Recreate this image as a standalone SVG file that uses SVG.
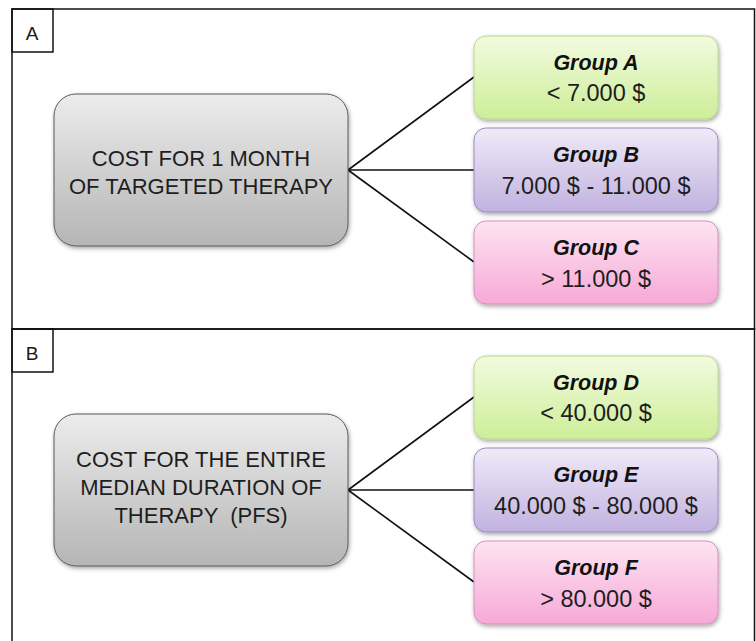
<svg xmlns="http://www.w3.org/2000/svg" width="756" height="641" viewBox="0 0 756 641">
<style>
.frame{fill:none;stroke:#111;stroke-width:1.5}
.lab{font-family:"Liberation Sans",Arial,sans-serif;font-size:19px;fill:#1a1a1a;text-anchor:middle}
.main{stroke:#5a5a5a;stroke-width:1;fill:url(#gGray);filter:url(#sh)}
.mt{font-family:"Liberation Sans",Arial,sans-serif;font-size:22px;fill:#1e1e1e;text-anchor:middle}
.g{font-family:"Liberation Sans",Arial,sans-serif;font-size:21.5px;font-weight:bold;font-style:italic;fill:#111;text-anchor:middle}
.v{font-family:"Liberation Sans",Arial,sans-serif;font-size:23.5px;fill:#1e1e1e;text-anchor:middle}
.grn{fill:url(#gGreen);stroke:#b9d68c;stroke-width:1;filter:url(#sh)}
.pur{fill:url(#gPur);stroke:#9a8cbf;stroke-width:1;filter:url(#sh)}
.pnk{fill:url(#gPink);stroke:#d892b8;stroke-width:1;filter:url(#sh)}
.conn line{stroke:#111;stroke-width:1.6}
</style>
<defs>
<linearGradient id="gGray" x1="0" y1="0" x2="0" y2="1"><stop offset="0" stop-color="#ececec"/><stop offset="1" stop-color="#b5b5b5"/></linearGradient>
<linearGradient id="gGreen" x1="0" y1="0" x2="0" y2="1"><stop offset="0" stop-color="#f2fbe0"/><stop offset="1" stop-color="#cdee98"/></linearGradient>
<linearGradient id="gPur" x1="0" y1="0" x2="0" y2="1"><stop offset="0" stop-color="#efeaf7"/><stop offset="1" stop-color="#c1b2e0"/></linearGradient>
<linearGradient id="gPink" x1="0" y1="0" x2="0" y2="1"><stop offset="0" stop-color="#fde4f2"/><stop offset="1" stop-color="#f7a9d6"/></linearGradient>
<filter id="sh" x="-10%" y="-10%" width="125%" height="130%"><feDropShadow dx="1" dy="2" stdDeviation="2" flood-color="#000" flood-opacity="0.35"/></filter>
</defs>
<rect width="756" height="641" fill="#fff"/>
<g id="panelA">
<rect class="frame" x="12" y="9" width="742.5" height="320"/>
<rect class="frame" x="12" y="9" width="41" height="43"/>
<text class="lab" x="32" y="40">A</text>
</g>
<g id="panelB">
<rect class="frame" x="12" y="329" width="742.5" height="330"/>
<rect class="frame" x="12" y="329" width="41" height="43"/>
<text class="lab" x="32" y="360">B</text>
</g>
<g class="conn" id="connectors">
<line x1="348" y1="170" x2="474" y2="77"/>
<line x1="348" y1="170" x2="474" y2="170"/>
<line x1="348" y1="170" x2="474" y2="262"/>
<line x1="348" y1="490" x2="474" y2="397"/>
<line x1="348" y1="490" x2="474" y2="490"/>
<line x1="348" y1="490" x2="474" y2="582"/>
</g>
<g id="costMonth">
<rect class="main" x="54" y="94" width="294" height="152" rx="22"/>
<text class="mt" x="201" y="166">COST FOR 1 MONTH</text>
<text class="mt" x="201" y="194">OF TARGETED THERAPY</text>
</g>
<g id="groupA">
<rect class="grn" x="474" y="36" width="244" height="83" rx="12"/>
<text class="g" x="596" y="70">Group A</text>
<text class="v" x="596" y="101">&lt; 7.000 $</text>
</g>
<g id="groupB">
<rect class="pur" x="474" y="128" width="244" height="84" rx="12"/>
<text class="g" x="596" y="162">Group B</text>
<text class="v" x="596" y="194">7.000 $ - 11.000 $</text>
</g>
<g id="groupC">
<rect class="pnk" x="474" y="221" width="244" height="83" rx="12"/>
<text class="g" x="596" y="255">Group C</text>
<text class="v" x="596" y="287">&gt; 11.000 $</text>
</g>
<g id="costEntire">
<rect class="main" x="54" y="414" width="294" height="152" rx="22"/>
<text class="mt" x="201" y="467">COST FOR THE ENTIRE</text>
<text class="mt" x="201" y="495">MEDIAN DURATION OF</text>
<text class="mt" x="201" y="523" xml:space="preserve">THERAPY  (PFS)</text>
</g>
<g id="groupD">
<rect class="grn" x="474" y="356" width="244" height="83" rx="12"/>
<text class="g" x="596" y="390">Group D</text>
<text class="v" x="596" y="421">&lt; 40.000 $</text>
</g>
<g id="groupE">
<rect class="pur" x="474" y="448" width="244" height="84" rx="12"/>
<text class="g" x="596" y="482">Group E</text>
<text class="v" x="596" y="514">40.000 $ - 80.000 $</text>
</g>
<g id="groupF">
<rect class="pnk" x="474" y="541" width="244" height="83" rx="12"/>
<text class="g" x="596" y="575">Group F</text>
<text class="v" x="596" y="607">&gt; 80.000 $</text>
</g>
</svg>
